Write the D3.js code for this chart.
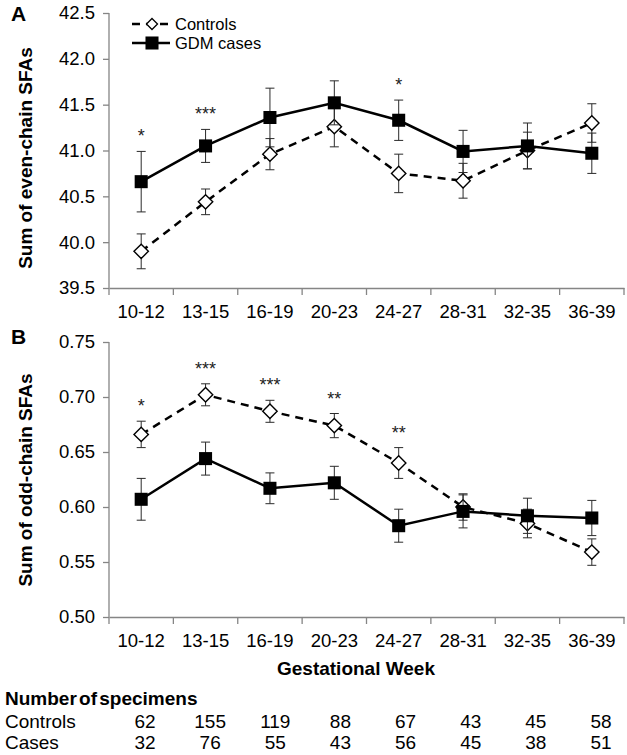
<!DOCTYPE html>
<html>
<head>
<meta charset="utf-8">
<script src="https://cdn.jsdelivr.net/npm/d3@7"></script>
<style>
  html, body { margin: 0; padding: 0; background: #fff; }
  svg { display: block; font-family: "Liberation Sans", Arial, sans-serif; }
</style>
</head>
<body>
<svg id="chart" width="627" height="755"></svg>
<script>
// ---------------- Data ----------------
const categories = ["10-12", "13-15", "16-19", "20-23", "24-27", "28-31", "32-35", "36-39"];

const evenControls    = [39.90, 40.44, 40.96, 41.26, 40.75, 40.67, 41.00, 41.30];
const evenControlsErr = [0.19, 0.14, 0.17, 0.22, 0.21, 0.19, 0.20, 0.21];
const evenCases       = [40.66, 41.05, 41.36, 41.52, 41.33, 40.99, 41.05, 40.97];
const evenCasesErr    = [0.33, 0.18, 0.32, 0.24, 0.22, 0.23, 0.25, 0.22];
const evenSig         = ["*", "***", "", "", "*", "", "", ""];
const evenTicks       = [39.5, 40.0, 40.5, 41.0, 41.5, 42.0, 42.5];

const oddControls    = [0.666, 0.702, 0.687, 0.674, 0.640, 0.600, 0.585, 0.559];
const oddControlsErr = [0.012, 0.010, 0.010, 0.011, 0.014, 0.012, 0.013, 0.012];
const oddCases       = [0.607, 0.644, 0.617, 0.622, 0.583, 0.596, 0.592, 0.590];
const oddCasesErr    = [0.019, 0.015, 0.014, 0.015, 0.015, 0.015, 0.016, 0.016];
const oddSig         = ["*", "***", "***", "**", "**", "", "", ""];
const oddTicks       = [0.50, 0.55, 0.60, 0.65, 0.70, 0.75];

const nControls = [62, 155, 119, 88, 67, 43, 45, 58];
const nCases    = [32, 76, 55, 43, 56, 45, 38, 51];

const seriesNames = ["Controls", "GDM cases"];

// ---------------- Drawing ----------------
const svg = d3.select("#chart");
const axisColor = "#858585";
const x = d3.scaleBand().domain(categories).range([109, 624]);

const square = d3.symbol().type(d3.symbolSquare).size(170);

function diamondPath(s) {
  return `M0,${-s}L${s},0L0,${s}L${-s},0Z`;
}

function drawPanel(o) {
  const y = d3.scaleLinear().domain(o.domain).range([o.bottom, o.top]);
  const g = svg.append("g");

  // y axis
  const ya = g.append("g").attr("transform", "translate(109,0)")
    .call(d3.axisLeft(y).tickValues(o.ticks).tickFormat(d3.format(o.fmt)).tickSize(6).tickPadding(8));
  ya.select(".domain").attr("stroke", axisColor).attr("stroke-width", 1.3)
    .attr("d", `M0,${y(o.domain[1])}V${y(o.domain[0])}`);
  ya.selectAll(".tick line").attr("stroke", axisColor).attr("stroke-width", 1.3);
  ya.selectAll(".tick text").attr("font-size", 18.5).attr("fill", "#000")
    .attr("font-family", "Liberation Sans, Arial, sans-serif");

  // x axis (labels centered in band, ticks at band boundaries)
  const xa = g.append("g").attr("transform", `translate(0,${o.bottom})`)
    .call(d3.axisBottom(x).tickSize(0).tickPadding(17).tickSizeOuter(0));
  xa.select(".domain").attr("stroke", axisColor).attr("stroke-width", 1.3);
  xa.selectAll(".tick text").attr("font-size", 18.5).attr("fill", "#000")
    .attr("font-family", "Liberation Sans, Arial, sans-serif");
  const bounds = categories.map(c => x(c)).concat([x(categories[categories.length - 1]) + x.bandwidth()]);
  g.selectAll(".xb").data(bounds).join("line")
    .attr("x1", d => d).attr("x2", d => d)
    .attr("y1", o.bottom).attr("y2", o.bottom + 7)
    .attr("stroke", axisColor).attr("stroke-width", 1.3);

  const cx = c => x(c) + x.bandwidth() / 2;

  const line = d3.line().x((d, i) => cx(categories[i])).y(d => y(d));
  const errBars = (vals, errs) => {
    const eb = g.append("g");
    vals.forEach((v, i) => {
      const X = cx(categories[i]);
      eb.append("line").attr("x1", X).attr("x2", X).attr("y1", y(v - errs[i])).attr("y2", y(v + errs[i]));
      [v - errs[i], v + errs[i]].forEach(e => {
        eb.append("line").attr("x1", X - 4.5).attr("x2", X + 4.5).attr("y1", y(e)).attr("y2", y(e));
      });
    });
    eb.selectAll("line").attr("stroke", "#2a2a2a").attr("stroke-width", 1);
  };

  const drawControls = () => {
    errBars(o.controls, o.controlsErr);
    g.append("path").datum(o.controls).attr("d", line)
      .attr("fill", "none").attr("stroke", "#000").attr("stroke-width", 2.5)
      .attr("stroke-dasharray", "8,6");
    g.selectAll(null).data(o.controls).join("path")
      .attr("d", diamondPath(7.2))
      .attr("transform", (d, i) => `translate(${cx(categories[i])},${y(d)})`)
      .attr("fill", "#fff").attr("stroke", "#000").attr("stroke-width", 1.4);
  };
  const drawCases = () => {
    errBars(o.cases, o.casesErr);
    g.append("path").datum(o.cases).attr("d", line)
      .attr("fill", "none").attr("stroke", "#000").attr("stroke-width", 2.5);
    g.selectAll(null).data(o.cases).join("path")
      .attr("d", square)
      .attr("transform", (d, i) => `translate(${cx(categories[i])},${y(d)})`)
      .attr("fill", "#000");
  };
  drawControls();
  drawCases();

  // significance stars
  g.selectAll(null).data(o.sig).join("text")
    .text(d => d)
    .attr("x", (d, i) => cx(categories[i]))
    .attr("y", (d, i) => Math.min(y(o.controls[i] + o.controlsErr[i]), y(o.cases[i] + o.casesErr[i])) - 9)
    .attr("text-anchor", "middle").attr("font-size", 18).attr("fill", "#222");

  // panel letter
  g.append("text").text(o.letter).attr("x", 11).attr("y", o.letterY)
    .attr("font-size", 21).attr("font-weight", "bold");

  // y title
  g.append("text").text(o.title)
    .attr("transform", `translate(32,${o.titleY}) rotate(-90)`)
    .attr("text-anchor", "middle").attr("font-size", 19).attr("font-weight", "bold");
}

drawPanel({
  domain: [39.5, 42.5], ticks: evenTicks, fmt: ".1f", top: 13, bottom: 288,
  controls: evenControls, controlsErr: evenControlsErr,
  cases: evenCases, casesErr: evenCasesErr, sig: evenSig,
  letter: "A", letterY: 21, title: "Sum of even-chain SFAs", titleY: 158
});
drawPanel({
  domain: [0.50, 0.75], ticks: oddTicks, fmt: ".2f", top: 342, bottom: 617,
  controls: oddControls, controlsErr: oddControlsErr,
  cases: oddCases, casesErr: oddCasesErr, sig: oddSig,
  letter: "B", letterY: 344, title: "Sum of odd-chain SFAs", titleY: 480
});

// legend
const leg = svg.append("g");
leg.append("line").attr("x1", 132).attr("x2", 170).attr("y1", 24).attr("y2", 24)
  .attr("stroke", "#000").attr("stroke-width", 2.5).attr("stroke-dasharray", "8,6");
leg.append("path").attr("d", diamondPath(5.5)).attr("transform", "translate(152,24)")
  .attr("fill", "#fff").attr("stroke", "#000").attr("stroke-width", 1.3);
leg.append("line").attr("x1", 132).attr("x2", 170).attr("y1", 43).attr("y2", 43)
  .attr("stroke", "#000").attr("stroke-width", 2.5);
leg.append("path").attr("d", square).attr("transform", "translate(152,43)").attr("fill", "#000");
leg.selectAll(null).data(seriesNames).join("text")
  .text(d => d).attr("x", 175).attr("y", (d, i) => 29.5 + i * 19.5)
  .attr("font-size", 16.5);

// x title
svg.append("text").text("Gestational Week").attr("x", 356).attr("y", 675)
  .attr("text-anchor", "middle").attr("font-size", 19).attr("font-weight", "bold");

// table
svg.append("text").text("Number of specimens").attr("x", 5).attr("y", 705)
  .attr("font-size", 19).attr("font-weight", "bold").attr("word-spacing", -3);
const tx = d3.scalePoint().domain(categories).range([145, 601]);
[["Controls", nControls, 728], ["Cases", nCases, 749]].forEach(([lab, vals, yy]) => {
  svg.append("text").text(lab).attr("x", 5).attr("y", yy).attr("font-size", 19);
  svg.selectAll(null).data(vals).join("text")
    .text(d => d).attr("x", (d, i) => tx(categories[i])).attr("y", yy)
    .attr("text-anchor", "middle").attr("font-size", 19);
});
</script>
</body>
</html>
